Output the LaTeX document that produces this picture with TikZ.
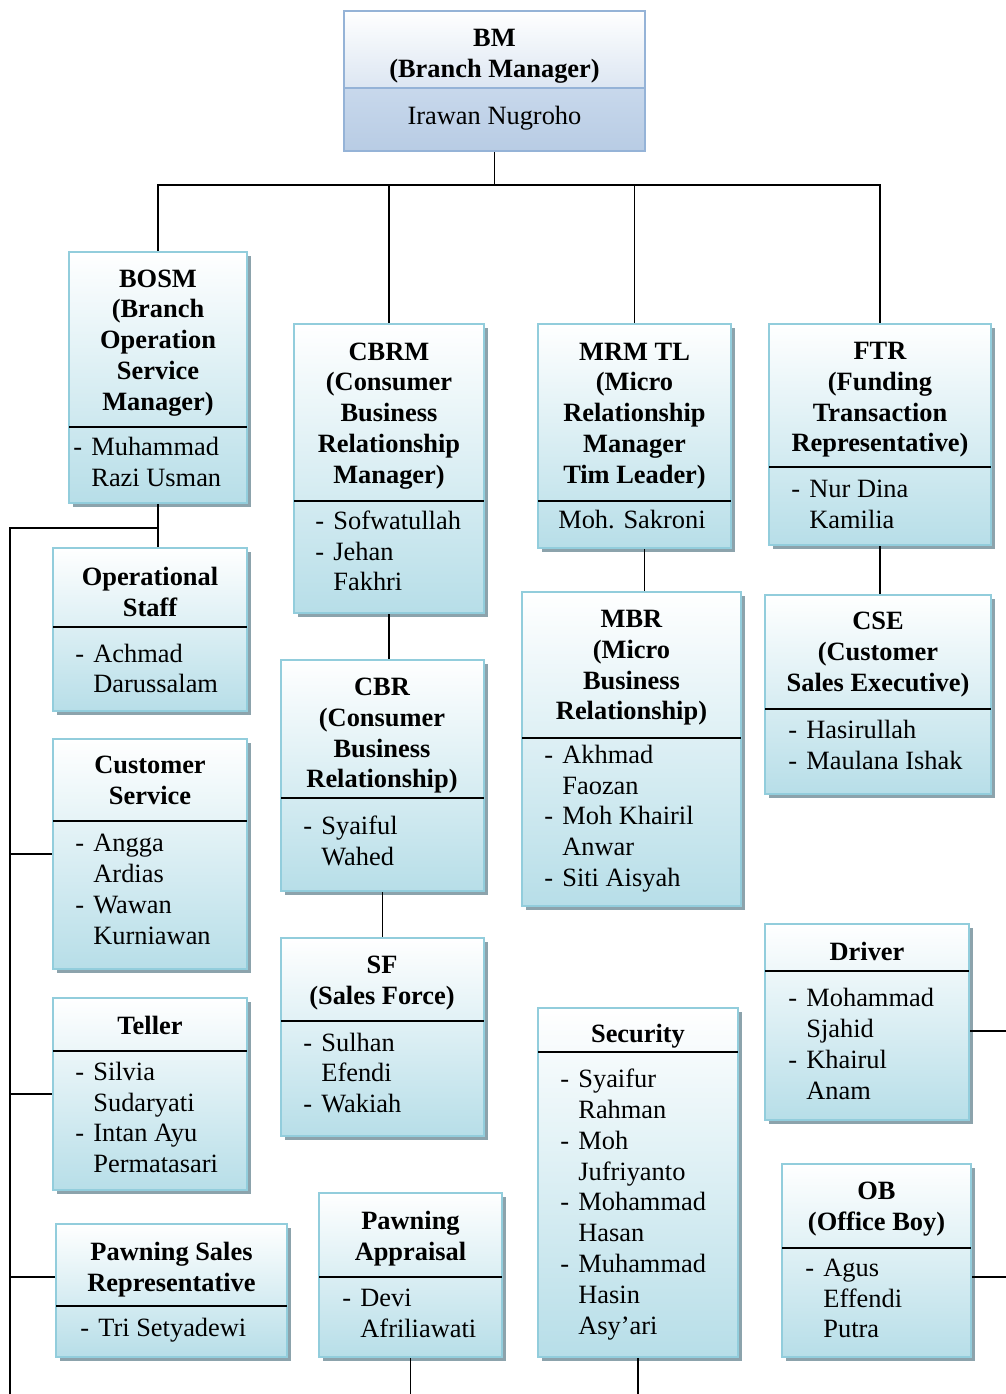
\documentclass[tikz,border=0pt]{standalone}
\usepackage{fontspec}
\setmainfont{Liberation Serif}
\usetikzlibrary{shadows, fit, calc}
\definecolor{unitline}{RGB}{146,205,220}
\definecolor{unitblue}{RGB}{183,222,232}
\definecolor{unitshadow}{RGB}{140,163,172}
\definecolor{bmline}{RGB}{149,179,215}
\definecolor{bmtop}{RGB}{220,230,242}
\definecolor{bmlow}{RGB}{200,216,236}
\definecolor{bmlowend}{RGB}{184,204,228}
\newcommand{\nmdash}{\makebox[9pt][l]{-}}
\newcommand{\nmind}{\hspace*{9pt}}

\begin{document}
\begin{tikzpicture}[x=0.5pt, y=-0.5pt,
		every node/.style={font=\fontsize{13.2}{15.4}\selectfont},
		unitbox/.style={draw=unitline, line width=1.3pt, top color=white, bottom color=unitblue, inner sep=0pt, drop shadow={shadow xshift=2pt, shadow yshift=-2pt, fill=unitshadow, opacity=1}},
		bmbox/.style={draw=bmline, line width=1.3pt, inner sep=0pt},
		unittitle/.style={font=\fontsize{13.2}{15.4}\selectfont\bfseries, align=center, inner sep=0pt, text depth=0pt},
		unitnames/.style={align=left, inner sep=0pt, anchor=west},
		divider/.style={line width=0.9pt},
		link/.style={line width=0.9pt}
	]
	\useasboundingbox (0,0) rectangle (1006,1394);

	% Branch manager
	\shade[top color=white, bottom color=bmtop] (344,11) rectangle (645,88);
	\shade[top color=bmlow, bottom color=bmlowend] (344,88) rectangle (645,151);
	\node[bmbox, fit={(344,11) (645,151)}] (bm) {};
	\draw[bmline, line width=1.3pt] (344,88) -- (645,88);
	\node[unittitle] (bmT) at (494.5,53.5) {BM\\(Branch Manager)};
	\node[text depth=0pt] (bmN) at (494.5,115) {Irawan Nugroho};

	% Second row
	\node[unitbox, fit={(69,252) (247,503)}] (bosm) {};
	\draw[divider] (69,427) -- (247,427);
	\node[unittitle] (bosmT) at (158,340) {BOSM\\(Branch\\Operation\\Service\\Manager)};
	\node[unitnames] (bosmN) at (73,462) {\nmdash Muhammad\\\nmind Razi Usman};

	\node[unitbox, fit={(294,324) (484,613)}] (cbrm) {};
	\draw[divider] (294,501) -- (484,501);
	\node[unittitle] (cbrmT) at (389,413) {CBRM\\(Consumer\\Business\\Relationship\\Manager)};
	\node[unitnames] (cbrmN) at (315,551) {\nmdash Sofwatullah\\\nmdash Jehan\\\nmind Fakhri};

	\node[unitbox, fit={(538,324) (731,548)}] (mrm) {};
	\draw[divider] (538,501) -- (731,501);
	\node[unittitle] (mrmT) at (634.5,413) {MRM TL\\(Micro\\Relationship\\Manager\\Tim Leader)};
	\node (mrmN) at (632,520) {Moh. Sakroni};

	\node[unitbox, fit={(769,324) (991,545)}] (ftr) {};
	\draw[divider] (769,467) -- (991,467);
	\node[unittitle] (ftrT) at (880,397) {FTR\\(Funding\\Transaction\\Representative)};
	\node[unitnames] (ftrN) at (791,504.5) {\nmdash Nur Dina\\\nmind Kamilia};

	% Operations column
	\node[unitbox, fit={(53,548) (247,711)}] (opstaff) {};
	\draw[divider] (53,627) -- (247,627);
	\node[unittitle] (opstaffT) at (150,592) {Operational\\Staff};
	\node[unitnames] (opstaffN) at (75,668.5) {\nmdash Achmad\\\nmind Darussalam};

	\node[unitbox, fit={(53,739) (247,969)}] (cs) {};
	\draw[divider] (53,821) -- (247,821);
	\node[unittitle] (csT) at (150,780.5) {Customer\\Service};
	\node[unitnames] (csN) at (75,889.5) {\nmdash Angga\\\nmind Ardias\\\nmdash Wawan\\\nmind Kurniawan};

	\node[unitbox, fit={(53,998) (247,1190)}] (teller) {};
	\draw[divider] (53,1051) -- (247,1051);
	\node[unittitle] (tellerT) at (150,1025) {Teller};
	\node[unitnames] (tellerN) at (75,1117.5) {\nmdash Silvia\\\nmind Sudaryati\\\nmdash Intan Ayu\\\nmind Permatasari};

	\node[unitbox, fit={(56,1224) (287,1357)}] (psr) {};
	\draw[divider] (56,1306) -- (287,1306);
	\node[unittitle] (psrT) at (171.5,1267) {Pawning Sales\\Representative};
	\node[unitnames] (psrN) at (80,1330) {\nmdash Tri Setyadewi};

	% Consumer column
	\node[unitbox, fit={(281,660) (484,891)}] (cbr) {};
	\draw[divider] (281,798) -- (484,798);
	\node[unittitle] (cbrT) at (382,733) {CBR\\(Consumer\\Business\\Relationship)};
	\node[unitnames] (cbrN) at (303,840.5) {\nmdash Syaiful\\\nmind Wahed};

	\node[unitbox, fit={(281,938) (484,1136)}] (sf) {};
	\draw[divider] (281,1021) -- (484,1021);
	\node[unittitle] (sfT) at (382,980.5) {SF\\(Sales Force)};
	\node[unitnames] (sfN) at (303,1073) {\nmdash Sulhan\\\nmind Efendi\\\nmdash Wakiah};

	\node[unitbox, fit={(319,1193) (502,1357)}] (pa) {};
	\draw[divider] (319,1277) -- (502,1277);
	\node[unittitle] (paT) at (410.5,1235.5) {Pawning\\Appraisal};
	\node[unitnames] (paN) at (342,1313) {\nmdash Devi\\\nmind Afriliawati};

	% Micro column
	\node[unitbox, fit={(522,592) (741,906)}] (mbr) {};
	\draw[divider] (522,738) -- (741,738);
	\node[unittitle] (mbrT) at (631.5,665) {MBR\\(Micro\\Business\\Relationship)};
	\node[unitnames] (mbrN) at (544,818.5) {\nmdash Akhmad\\\nmind Faozan\\\nmdash Moh Khairil\\\nmind Anwar\\\nmdash Siti Aisyah};

	\node[unitbox, fit={(538,1008) (738,1357)}] (security) {};
	\draw[divider] (538,1052) -- (738,1052);
	\node[unittitle] (securityT) at (638,1033) {Security};
	\node[unitnames] (securityN) at (560,1204.5) {\nmdash Syaifur\\\nmind Rahman\\\nmdash Moh\\\nmind Jufriyanto\\\nmdash Mohammad\\\nmind Hasan\\\nmdash Muhammad\\\nmind Hasin\\\nmind Asy’ari};

	% Funding column
	\node[unitbox, fit={(765,595) (991,794)}] (cse) {};
	\draw[divider] (765,709) -- (991,709);
	\node[unittitle] (cseT) at (878,652) {CSE\\(Customer\\Sales Executive)};
	\node[unitnames] (cseN) at (788,745) {\nmdash Hasirullah\\\nmdash Maulana Ishak};

	\node[unitbox, fit={(765,924) (969,1120)}] (driver) {};
	\draw[divider] (765,971) -- (969,971);
	\node[unittitle] (driverT) at (867,951) {Driver};
	\node[unitnames] (driverN) at (788,1044) {\nmdash Mohammad\\\nmind Sjahid\\\nmdash Khairul\\\nmind Anam};

	\node[unitbox, fit={(782,1164) (971,1357)}] (ob) {};
	\draw[divider] (782,1248) -- (971,1248);
	\node[unittitle] (obT) at (876.5,1206) {OB\\(Office Boy)};
	\node[unitnames] (obN) at (805,1298.5) {\nmdash Agus\\\nmind Effendi\\\nmind Putra};

	% Connectors
	\coordinate (topbar) at (0,185);
	\coordinate (spine) at (10,528);
	\coordinate (lowlink) at (0,1277);
	\coordinate (pagebottom) at (0,1394);
	\coordinate (pageright) at (1006,0);
	\coordinate (mbrlink) at ([xshift=5pt]mrm.south);
	\coordinate (driverlink) at ([yshift=-4.5pt]driver.east);

	\draw[link] (bm.south) -- (bm.south |- topbar);
	\draw[link] (bosm.north) -- (bosm.north |- topbar) -- (ftr.north |- topbar) -- (ftr.north);
	\draw[link] (cbrm.north) -- (cbrm.north |- topbar);
	\draw[link] (mrm.north) -- (mrm.north |- topbar);

	\draw[link] (bosm.south) -- (bosm.south |- opstaff.north);
	\draw[link] (bosm.south |- spine) -- (spine) -- (spine |- pagebottom);
	\draw[link] (spine |- cs.west) -- (cs.west);
	\draw[link] (spine |- teller.west) -- (teller.west);
	\draw[link] (spine |- lowlink) -- (psr.west |- lowlink);

	\draw[link] (cbrm.south) -- (cbrm.south |- cbr.north);
	\draw[link] (cbr.south) -- (sf.north);
	\draw[link] (pa.south) -- (pa.south |- pagebottom);

	\draw[link] (mbrlink) -- (mbrlink |- mbr.north);
	\draw[link] (security.south) -- (security.south |- pagebottom);

	\draw[link] (ftr.south) -- (ftr.south |- cse.north);
	\draw[link] (driverlink) -- (driverlink -| pageright);
	\draw[link] (ob.east |- lowlink) -- (pageright |- lowlink);
\end{tikzpicture}
\end{document}
